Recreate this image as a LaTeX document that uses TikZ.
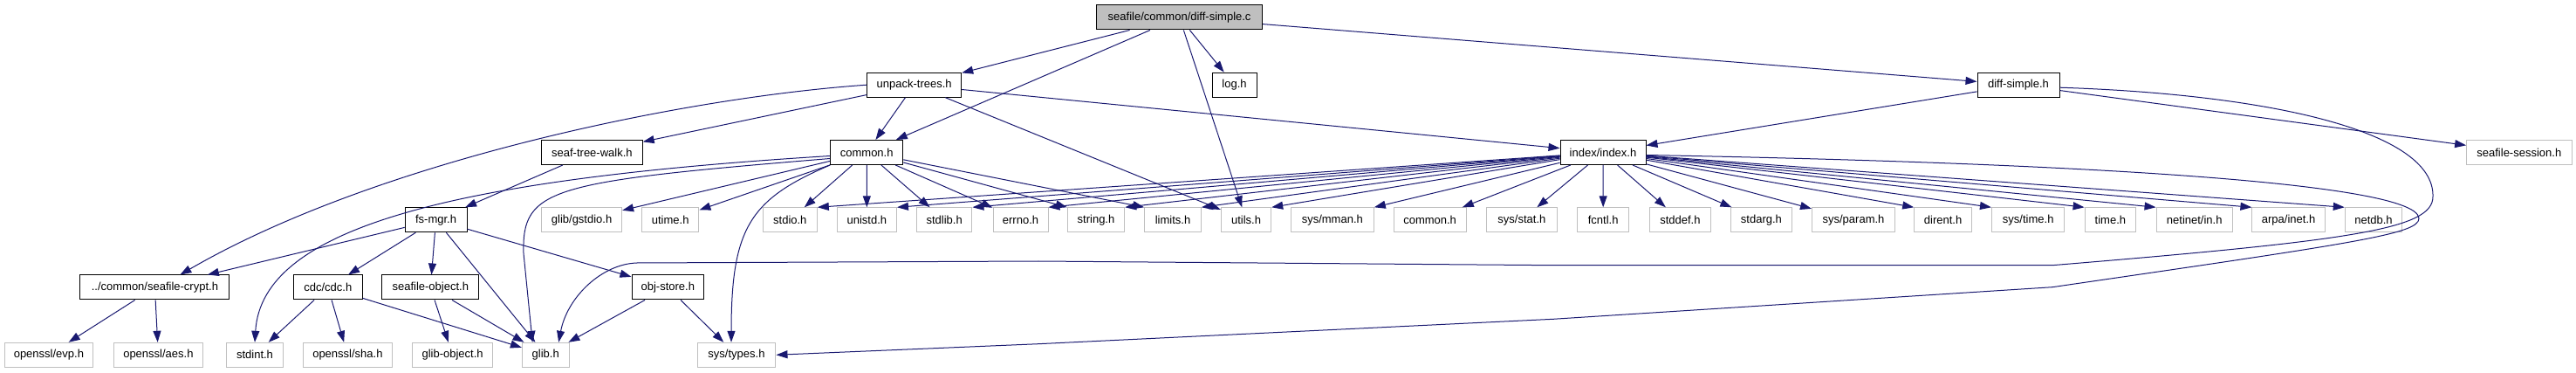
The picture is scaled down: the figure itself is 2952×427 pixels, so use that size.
\documentclass[tikz,border=0pt]{standalone}
\usepackage{fontspec}
\setmainfont{Liberation Sans}
\usetikzlibrary{arrows.meta}
\definecolor{edgeblue}{HTML}{191970}
\definecolor{extgray}{HTML}{BFBFBF}
\begin{document}
\begin{tikzpicture}[x=1pt,y=-1pt,
  box/.style={draw=black,line width=1pt,fill=white,minimum height=28pt,inner sep=0pt,font=\fontsize{13}{15}\selectfont},
  extbox/.style={box,draw=extgray},
  rootbox/.style={box,fill=extgray},
  edge/.style={draw=edgeblue,line width=1pt,-{Triangle[length=13pt,width=9pt]}}]
\useasboundingbox (0,0) rectangle (2952,427);
% row 0
\node[rootbox,minimum width=190pt] (root) at (1351.6,20) {seafile/common/diff-simple.c};
% row 1
\node[box,minimum width=108pt] (unpack) at (1047.7,97.2) {unpack-trees.h};
\node[box,minimum width=51pt] (log) at (1414.5,97.2) {log.h};
\node[box,minimum width=94pt] (diffh) at (2313,97.2) {diff-simple.h};
% row 2
\node[box,minimum width=115.6pt] (seaftw) at (678.4,174.5) {seaf-tree-walk.h};
\node[box,minimum width=83.1pt] (common) at (993.2,174.5) {common.h};
\node[box,minimum width=98pt] (index) at (1837,174.5) {index/index.h};
\node[extbox,minimum width=120.4pt] (session) at (2886.8,174.5) {seafile-session.h};
% row 3
\node[box,minimum width=70.8pt] (fsmgr) at (499.6,251.8) {fs-mgr.h};
\node[extbox,minimum width=92pt] (gstdio) at (666.6,251.8) {glib/gstdio.h};
\node[extbox,minimum width=65.5pt] (utime) at (768.2,251.8) {utime.h};
\node[extbox,minimum width=62pt] (stdio) at (905.3,251.8) {stdio.h};
\node[extbox,minimum width=68.1pt] (unistd) at (993.4,251.8) {unistd.h};
\node[extbox,minimum width=63.5pt] (stdlib) at (1082.2,251.8) {stdlib.h};
\node[extbox,minimum width=63pt] (errno) at (1169.5,251.8) {errno.h};
\node[extbox,minimum width=65.5pt] (string) at (1256,251.8) {string.h};
\node[extbox,minimum width=64.7pt] (limits) at (1344,251.8) {limits.h};
\node[extbox,minimum width=57.4pt] (utils) at (1428,251.8) {utils.h};
\node[extbox,minimum width=95pt] (mman) at (1526.8,251.8) {sys/mman.h};
\node[extbox,minimum width=83.1pt] (commonx) at (1638.6,251.8) {common.h};
\node[extbox,minimum width=80.7pt] (sysstat) at (1743.9,251.8) {sys/stat.h};
\node[extbox,minimum width=59.3pt] (fcntl) at (1837.2,251.8) {fcntl.h};
\node[extbox,minimum width=69.6pt] (stddef) at (1925.4,251.8) {stddef.h};
\node[extbox,minimum width=69.7pt] (stdarg) at (2018.4,251.8) {stdarg.h};
\node[extbox,minimum width=95pt] (sysparam) at (2124,251.8) {sys/param.h};
\node[extbox,minimum width=65.8pt] (dirent) at (2226.6,251.8) {dirent.h};
\node[extbox,minimum width=83.5pt] (systime) at (2324.2,251.8) {sys/time.h};
\node[extbox,minimum width=58.6pt] (time) at (2418.4,251.8) {time.h};
\node[extbox,minimum width=87.3pt] (netinet) at (2514.7,251.8) {netinet/in.h};
\node[extbox,minimum width=83.4pt] (arpa) at (2622.6,251.8) {arpa/inet.h};
\node[extbox,minimum width=65.5pt] (netdb) at (2720,251.8) {netdb.h};
% row 4
\node[box,minimum width=171.1pt] (crypt) at (177.4,329) {../common/seafile-crypt.h};
\node[box,minimum width=78.8pt] (cdc) at (375.8,329) {cdc/cdc.h};
\node[box,minimum width=111pt] (seafobj) at (493.3,329) {seafile-object.h};
\node[box,minimum width=82.6pt] (objstore) at (765.3,329) {obj-store.h};
% row 5
\node[extbox,minimum width=101.8pt] (evp) at (55.9,406.3) {openssl/evp.h};
\node[extbox,minimum width=102.6pt] (aes) at (181.4,406.3) {openssl/aes.h};
\node[extbox,minimum width=65pt] (stdint) at (292,406.3) {stdint.h};
\node[extbox,minimum width=102.6pt] (sha) at (398.4,406.3) {openssl/sha.h};
\node[extbox,minimum width=91.9pt] (globj) at (518.6,406.3) {glib-object.h};
\node[extbox,minimum width=53.6pt] (glib) at (625.2,406.3) {glib.h};
\node[extbox,minimum width=89.9pt] (systypes) at (844,406.3) {sys/types.h};

% edges from root
\draw[edge] (root) -- (unpack);
\draw[edge] (root) -- (common);
\draw[edge] (root) -- (utils);
\draw[edge] (root) -- (log);
\draw[edge] (root) -- (diffh);
% unpack-trees.h
\draw[edge] (unpack) -- (common);
\draw[edge] (unpack) -- (seaftw);
\draw[edge] (unpack) -- (index);
\draw[edge] (unpack) -- (utils);
\draw[edge] (unpack.west) .. controls (780,112) and (430,185) .. ([xshift=29pt]crypt.north);
% diff-simple.h
\draw[edge] (diffh) -- (index);
\draw[edge] (diffh) -- (session);
\draw[edge] ([yshift=-3pt]diffh.east) .. controls (2600,108) and (2790,150) .. (2788,225)
  .. controls (2788,262) and (2700,275) .. (2352,303.7) -- (1780,303.7) -- (1190,299) -- (730,301)
  .. controls (690,302) and (650,340) .. ([xshift=15pt]glib.north);
% seaf-tree-walk.h
\draw[edge] (seaftw) -- (fsmgr);
% common.h
\draw[edge] ([yshift=-4pt]common.west) .. controls (520,205) and (300,260) .. (stdint.north);
\draw[edge] ([yshift=-7pt]common.west) .. controls (630,208) and (598,215) .. (600,290) -- ([xshift=-15pt]glib.north);
\draw[edge] (common.south west) .. controls (860,228) and (838,260) .. ([xshift=-6pt]systypes.north);
\draw[edge] (common) -- (gstdio);
\draw[edge] (common) -- (utime);
\draw[edge] (common) -- (stdio);
\draw[edge] (common) -- (unistd);
\draw[edge] (common) -- (stdlib);
\draw[edge] (common) -- (errno);
\draw[edge] (common) -- (string.north west);
\draw[edge] (common) -- (limits.north west);
% index/index.h
\foreach \t in {stdio,unistd,stdlib,errno,string,limits,utils,mman}
  \draw[edge] (index) -- (\t.north east);
\foreach \t in {commonx,sysstat,fcntl,stddef,stdarg,sysparam}
  \draw[edge] (index) -- (\t);
\foreach \t in {dirent,systime,time,netinet,arpa,netdb}
  \draw[edge] (index) -- (\t.north west);
\draw[edge] ([yshift=-3pt]index.east) .. controls (2300,185) and (2770,205) .. (2772,250)
  .. controls (2772,268) and (2700,278) .. (2352,328.7) -- (1780,365.3) -- (1190,393.7) -- (systypes.east);
% fs-mgr.h
\draw[edge] (fsmgr) -- (crypt);
\draw[edge] (fsmgr) -- (cdc);
\draw[edge] (fsmgr) -- (seafobj);
\draw[edge] (fsmgr) -- (glib);
\draw[edge] (fsmgr) -- (objstore);
% row 4
\draw[edge] (crypt) -- (evp);
\draw[edge] (crypt) -- (aes);
\draw[edge] (cdc) -- (stdint);
\draw[edge] (cdc) -- (sha);
\draw[edge] (cdc) -- (glib);
\draw[edge] (seafobj) -- (globj);
\draw[edge] (seafobj) -- (glib);
\draw[edge] (objstore) -- (glib);
\draw[edge] (objstore) -- (systypes);
\end{tikzpicture}
\end{document}
